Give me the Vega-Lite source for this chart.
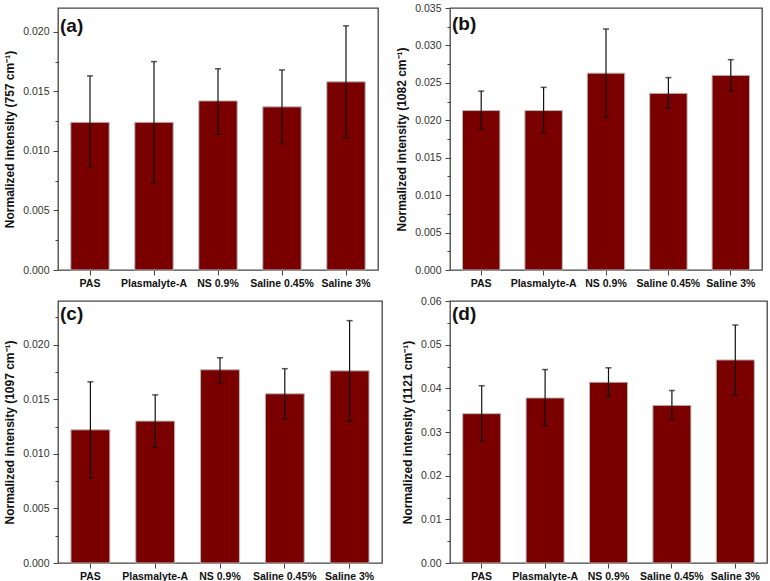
{
  "$schema": "https://vega.github.io/schema/vega-lite/v6.json",
  "background": "white",
  "padding": {"left": 3, "top": 2, "right": 5, "bottom": 5},
  "spacing": 5,
  "datasets": {
    "a": [
      {"group": "PAS", "mean": 0.0124, "lo": 0.0086, "hi": 0.0163},
      {"group": "Plasmalyte-A", "mean": 0.0124, "lo": 0.0073, "hi": 0.0175},
      {"group": "NS 0.9%", "mean": 0.0142, "lo": 0.0114, "hi": 0.0169},
      {"group": "Saline 0.45%", "mean": 0.0137, "lo": 0.0106, "hi": 0.0168},
      {"group": "Saline 3%", "mean": 0.0158, "lo": 0.0111, "hi": 0.0205}
    ],
    "b": [
      {"group": "PAS", "mean": 0.0213, "lo": 0.0188, "hi": 0.0239},
      {"group": "Plasmalyte-A", "mean": 0.0213, "lo": 0.0183, "hi": 0.0244},
      {"group": "NS 0.9%", "mean": 0.0263, "lo": 0.0204, "hi": 0.0322},
      {"group": "Saline 0.45%", "mean": 0.0236, "lo": 0.0216, "hi": 0.0257},
      {"group": "Saline 3%", "mean": 0.0260, "lo": 0.0239, "hi": 0.0281}
    ],
    "c": [
      {"group": "PAS", "mean": 0.0122, "lo": 0.0078, "hi": 0.0166},
      {"group": "Plasmalyte-A", "mean": 0.0130, "lo": 0.0106, "hi": 0.0154},
      {"group": "NS 0.9%", "mean": 0.0177, "lo": 0.0165, "hi": 0.0188},
      {"group": "Saline 0.45%", "mean": 0.0155, "lo": 0.0132, "hi": 0.0178},
      {"group": "Saline 3%", "mean": 0.0176, "lo": 0.0130, "hi": 0.0222}
    ],
    "d": [
      {"group": "PAS", "mean": 0.0342, "lo": 0.0278, "hi": 0.0406},
      {"group": "Plasmalyte-A", "mean": 0.0378, "lo": 0.0314, "hi": 0.0443},
      {"group": "NS 0.9%", "mean": 0.0414, "lo": 0.0381, "hi": 0.0447},
      {"group": "Saline 0.45%", "mean": 0.0361, "lo": 0.0328, "hi": 0.0395},
      {"group": "Saline 3%", "mean": 0.0465, "lo": 0.0385, "hi": 0.0545}
    ]
  },
  "vconcat": [
    {
      "spacing": 16,
      "hconcat": [
        {
          "width": 320, "height": 262,
          "data": {"name": "a"},
          "title": {"text": "(a)", "anchor": "start", "frame": "group", "offset": -28, "dx": 2},
          "encoding": {"x": {"field": "group", "type": "nominal", "sort": null, "scale": {"paddingInner": 0.4, "paddingOuter": 0.2}, "axis": {"title": null, "labelAngle": 0, "labelFontWeight": "bold", "labelColor": "#111", "labelPadding": 3}}},
          "layer": [
            {"mark": {"type": "bar", "color": "#7a0000", "stroke": "#b8b8b8", "strokeWidth": 1},
             "encoding": {"y": {"field": "mean", "type": "quantitative", "scale": {"domain": [0, 0.022], "nice": false}, "axis": {"orient": "left", "title": "Normalized intensity (757 cm⁻¹)", "values": [0, 0.005, 0.01, 0.015, 0.02], "format": ".3f", "labelPadding": 4, "titlePadding": 6}}}},
            {"mark": {"type": "rule", "color": "#111", "strokeWidth": 1.2},
             "encoding": {"y": {"field": "lo", "type": "quantitative", "scale": {"domain": [0, 0.022], "nice": false}, "axis": {"orient": "left", "values": [0.0025, 0.0075, 0.0125, 0.0175], "labels": false, "title": null, "tickSize": 3}}, "y2": {"field": "hi"}}},
            {"mark": {"type": "tick", "color": "#111", "size": 6, "thickness": 1.5}, "encoding": {"y": {"field": "lo", "type": "quantitative", "axis": null}}},
            {"mark": {"type": "tick", "color": "#111", "size": 6, "thickness": 1.5}, "encoding": {"y": {"field": "hi", "type": "quantitative", "axis": null}}}
          ],
          "resolve": {"axis": {"y": "independent"}}
        },
        {
          "width": 312, "height": 262,
          "data": {"name": "b"},
          "title": {"text": "(b)", "anchor": "start", "frame": "group", "offset": -31, "dx": 2},
          "encoding": {"x": {"field": "group", "type": "nominal", "sort": null, "scale": {"paddingInner": 0.4, "paddingOuter": 0.2}, "axis": {"title": null, "labelAngle": 0, "labelFontWeight": "bold", "labelColor": "#111", "labelPadding": 3}}},
          "layer": [
            {"mark": {"type": "bar", "color": "#7a0000", "stroke": "#b8b8b8", "strokeWidth": 1},
             "encoding": {"y": {"field": "mean", "type": "quantitative", "scale": {"domain": [0, 0.035], "nice": false}, "axis": {"orient": "left", "title": "Normalized intensity (1082 cm⁻¹)", "values": [0, 0.005, 0.01, 0.015, 0.02, 0.025, 0.03, 0.035], "format": ".3f", "labelPadding": 4, "titlePadding": 6}}}},
            {"mark": {"type": "rule", "color": "#111", "strokeWidth": 1.2},
             "encoding": {"y": {"field": "lo", "type": "quantitative", "scale": {"domain": [0, 0.035], "nice": false}, "axis": {"orient": "left", "values": [0.0025, 0.0075, 0.0125, 0.0175, 0.0225, 0.0275, 0.0325], "labels": false, "title": null, "tickSize": 3}}, "y2": {"field": "hi"}}},
            {"mark": {"type": "tick", "color": "#111", "size": 6, "thickness": 1.5}, "encoding": {"y": {"field": "lo", "type": "quantitative", "axis": null}}},
            {"mark": {"type": "tick", "color": "#111", "size": 6, "thickness": 1.5}, "encoding": {"y": {"field": "hi", "type": "quantitative", "axis": null}}}
          ],
          "resolve": {"axis": {"y": "independent"}}
        }
      ]
    },
    {
      "spacing": 17,
      "hconcat": [
        {
          "width": 324, "height": 262,
          "data": {"name": "c"},
          "title": {"text": "(c)", "anchor": "start", "frame": "group", "offset": -23, "dx": 2},
          "encoding": {"x": {"field": "group", "type": "nominal", "sort": null, "scale": {"paddingInner": 0.4, "paddingOuter": 0.2}, "axis": {"title": null, "labelAngle": 0, "labelFontWeight": "bold", "labelColor": "#111", "labelPadding": 3}}},
          "layer": [
            {"mark": {"type": "bar", "color": "#7a0000", "stroke": "#b8b8b8", "strokeWidth": 1},
             "encoding": {"y": {"field": "mean", "type": "quantitative", "scale": {"domain": [0, 0.024], "nice": false}, "axis": {"orient": "left", "title": "Normalized intensity (1097 cm⁻¹)", "values": [0, 0.005, 0.01, 0.015, 0.02], "format": ".3f", "labelPadding": 4, "titlePadding": 6}}}},
            {"mark": {"type": "rule", "color": "#111", "strokeWidth": 1.2},
             "encoding": {"y": {"field": "lo", "type": "quantitative", "scale": {"domain": [0, 0.024], "nice": false}, "axis": {"orient": "left", "values": [0.0025, 0.0075, 0.0125, 0.0175, 0.0225], "labels": false, "title": null, "tickSize": 3}}, "y2": {"field": "hi"}}},
            {"mark": {"type": "tick", "color": "#111", "size": 6, "thickness": 1.5}, "encoding": {"y": {"field": "lo", "type": "quantitative", "axis": null}}},
            {"mark": {"type": "tick", "color": "#111", "size": 6, "thickness": 1.5}, "encoding": {"y": {"field": "hi", "type": "quantitative", "axis": null}}}
          ],
          "resolve": {"axis": {"y": "independent"}}
        },
        {
          "width": 317, "height": 262,
          "data": {"name": "d"},
          "title": {"text": "(d)", "anchor": "start", "frame": "group", "offset": -28, "dx": 2},
          "encoding": {"x": {"field": "group", "type": "nominal", "sort": null, "scale": {"paddingInner": 0.4, "paddingOuter": 0.2}, "axis": {"title": null, "labelAngle": 0, "labelFontWeight": "bold", "labelColor": "#111", "labelPadding": 3}}},
          "layer": [
            {"mark": {"type": "bar", "color": "#7a0000", "stroke": "#b8b8b8", "strokeWidth": 1},
             "encoding": {"y": {"field": "mean", "type": "quantitative", "scale": {"domain": [0, 0.06], "nice": false}, "axis": {"orient": "left", "title": "Normalized intensity (1121 cm⁻¹)", "values": [0, 0.01, 0.02, 0.03, 0.04, 0.05, 0.06], "format": ".2f", "labelPadding": 4, "titlePadding": 6}}}},
            {"mark": {"type": "rule", "color": "#111", "strokeWidth": 1.2},
             "encoding": {"y": {"field": "lo", "type": "quantitative", "scale": {"domain": [0, 0.06], "nice": false}, "axis": {"orient": "left", "values": [0.005, 0.015, 0.025, 0.035, 0.045, 0.055], "labels": false, "title": null, "tickSize": 3}}, "y2": {"field": "hi"}}},
            {"mark": {"type": "tick", "color": "#111", "size": 6, "thickness": 1.5}, "encoding": {"y": {"field": "lo", "type": "quantitative", "axis": null}}},
            {"mark": {"type": "tick", "color": "#111", "size": 6, "thickness": 1.5}, "encoding": {"y": {"field": "hi", "type": "quantitative", "axis": null}}}
          ],
          "resolve": {"axis": {"y": "independent"}}
        }
      ]
    }
  ],
  "config": {
    "font": "Liberation Sans",
    "view": {"stroke": "#444", "strokeWidth": 1.3},
    "axis": {"labelFont": "Liberation Sans", "labelFontSize": 10.5, "labelColor": "#333", "tickColor": "#444", "tickSize": 5, "domain": false, "grid": false, "titleFont": "Liberation Sans", "titleFontSize": 12, "titleFontWeight": "bold", "titleColor": "#111", "titlePadding": 3, "labelPadding": 2},
    "title": {"font": "Liberation Sans", "fontSize": 19, "fontWeight": "bold", "color": "#111"}
  }
}
